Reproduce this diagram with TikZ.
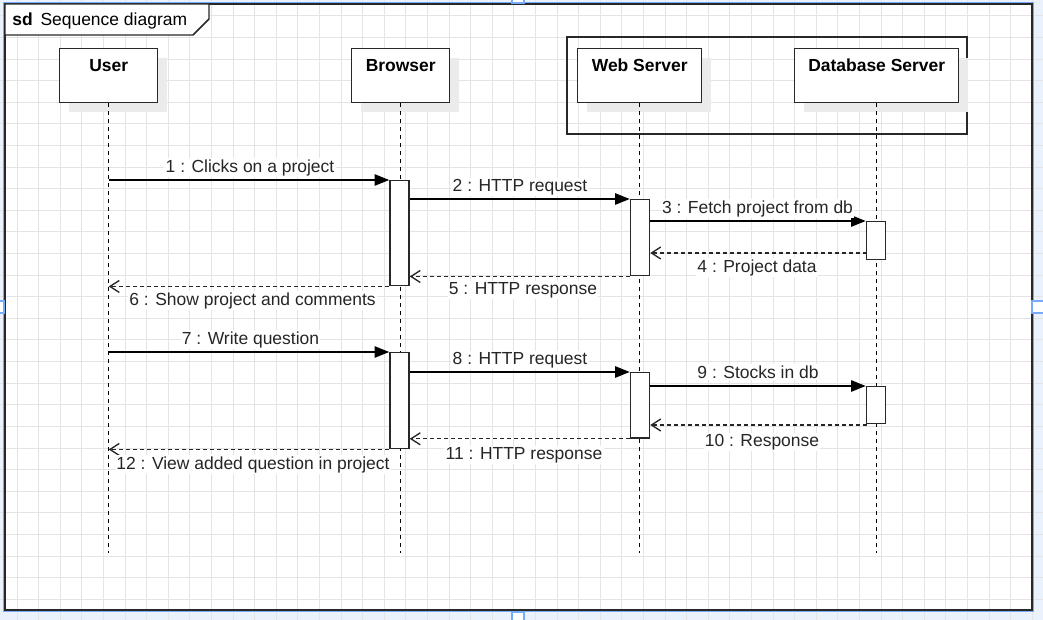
\documentclass[tikz,border=0pt]{standalone}
\usepackage{fontspec}
\setmainfont{Liberation Sans}
\usetikzlibrary{arrows.meta,shadows}

\definecolor{gridgray}{RGB}{228,228,228}
\definecolor{selblue}{RGB}{120,170,250}
\definecolor{seltint}{RGB}{234,242,254}
\definecolor{shadegray}{RGB}{235,235,235}
\definecolor{edgegray}{RGB}{40,40,40}

\tikzset{every picture/.style={line width=0.75pt}}
\tikzset{
  gridline/.style={draw=gridgray, line width=0.75pt},
  headbox/.style={draw=edgegray, line width=1.1pt, fill=white, anchor=north west,
    inner sep=0pt, text height=17.45pt, text depth=23.05pt, minimum width=#1,
    font=\fontsize{13.1pt}{15pt}\selectfont\bfseries,
    drop shadow={shadow xshift=6.75pt, shadow yshift=-6.75pt, fill=shadegray, opacity=1}},
  actbox/.style={draw=edgegray, line width=1.1pt, fill=white, anchor=north,
    inner sep=0pt, minimum width=14.25pt, minimum height=#1},
  lifeline/.style={draw=black, line width=0.9pt, dash pattern=on 3pt off 3pt},
  msg/.style={draw=black, line width=1.1pt, -{Triangle[length=11pt,width=8.5pt]}},
  ret/.style={draw=black!85, line width=1pt, dash pattern=on 3pt off 2.25pt,
    -{Straight Barb[length=7pt,width=9pt,line width=1pt]}},
  msgtext/.style={anchor=base, fill=white, inner xsep=1pt, inner ysep=1pt,
    text=black!85, font=\fontsize{13.1pt}{15pt}\selectfont},
  handle/.style={draw=selblue, line width=1.2pt, fill=white, minimum size=9pt, inner sep=0pt}
}

\begin{document}
\begin{tikzpicture}[x=0.75pt,y=0.75pt,yscale=-1,xscale=1]
\useasboundingbox (0,0) rectangle (1043,620);
\clip (0,0) rectangle (1043,620);

%background and selection tint
\fill[white] (0,0) rectangle (1043,620);
\fill[seltint] (1033,0) rectangle (1043,620);
\fill[seltint] (0,612) rectangle (1043,620);
\fill[seltint] (0,0) rectangle (1043,3);
\fill[seltint] (0,0) rectangle (4,620);

%grid
\foreach \gx in {-4.6,17,...,1050} \draw[gridline] (\gx,0) -- (\gx,620);
\foreach \gy in {-5.6,16,...,630} \draw[gridline] (0,\gy) -- (1043,\gy);

%selection outline and frame
\draw[selblue, line width=1pt] (3.2,2.4) rectangle (1033.2,611.6);
\draw[edgegray, line width=1.5pt] (5,4) rectangle (1031.5,610);
\node[handle] (htop) at (518,-3) {};
\node[handle] (hbot) at (518,618) {};
\node[handle] (hleft) at (-2,307) {};
\node[handle] (hright) at (1038,307) {};

%frame tab
\draw[edgegray, line width=1.1pt, fill=white] (5,4) -- (209,4) -- (209,19) -- (193,35) -- (5,35) -- cycle;
\node[anchor=base west, inner sep=0pt, font=\fontsize{13.1pt}{15pt}\selectfont\bfseries] (sdtag) at (12,25.3) {sd};
\node[anchor=base west, inner sep=0pt, font=\fontsize{13.1pt}{15pt}\selectfont] (sdtitle) at (40,25.3) {Sequence diagram};

%server group
\draw[edgegray, line width=1.1pt] (567,37) rectangle (967,134);

%lifeline heads
\node[headbox=73.5pt] (user) at (59,48) {User};
\node[headbox=73.5pt] (browser) at (351,48) {Browser};
\node[headbox=93pt] (web) at (577,48) {Web Server};
\node[headbox=123pt] (db) at (794,48) {Database Server};

%lifelines
\coordinate (lifeend) at (0,553);
\draw[lifeline] (user.south) -- (user.south |- lifeend);
\draw[lifeline] (browser.south) -- (browser.south |- lifeend);
\draw[lifeline] (web.south) -- (web.south |- lifeend);
\draw[lifeline] (db.south) -- (db.south |- lifeend);

%activations
\node[actbox=78.75pt] (bact1) at (399.5,180) {};
\node[actbox=57pt] (wact1) at (640,199) {};
\node[actbox=28.5pt] (dact1) at (876,221) {};
\node[actbox=72pt] (bact2) at (399.5,352) {};
\node[actbox=49pt] (wact2) at (640,372) {};
\node[actbox=27.75pt] (dact2) at (876,386) {};

%first exchange
\draw[msg] (user.south |- bact1.north) -- (bact1.north west);
\draw[msg] (bact1.east |- wact1.north) -- (wact1.north west);
\draw[msg] (wact1.east |- dact1.north) -- (dact1.north west);
\coordinate (ret4) at (866.5,253);
\draw[ret] (ret4) -- (ret4 -| wact1.east);
\draw[ret] (wact1.south west) -- (wact1.south west -| bact1.east);
\draw[ret] (bact1.south west) -- (bact1.south west -| user.south);

%second exchange
\draw[msg] (user.south |- bact2.north) -- (bact2.north west);
\draw[msg] (bact2.east |- wact2.north) -- (wact2.north west);
\draw[msg] (wact2.east |- dact2.north) -- (dact2.north west);
\coordinate (ret10) at (866.5,425);
\draw[ret] (ret10) -- (ret10 -| wact2.east);
\draw[ret] (wact2.south west) -- (wact2.south west -| bact2.east);
\draw[ret] (bact2.south west) -- (bact2.south west -| user.south);

%message labels
\node[msgtext] (m1) at (250,172.3) {1 : Clicks on a project};
\node[msgtext] (m2) at (520,191.3) {2 : HTTP request};
\node[msgtext] (m3) at (757.5,213.3) {3 : Fetch project from db};
\node[msgtext] (m4) at (757,272.3) {4 : Project data};
\node[msgtext] (m5) at (523,294.3) {5 : HTTP response};
\node[msgtext] (m6) at (252.5,305.3) {6 : Show project and comments};
\node[msgtext] (m7) at (250.5,344.3) {7 : Write question};
\node[msgtext] (m8) at (520,364.3) {8 : HTTP request};
\node[msgtext] (m9) at (758,378.3) {9 : Stocks in db};
\node[msgtext] (m10) at (762,446.3) {10 : Response};
\node[msgtext] (m11) at (524,459.3) {11 : HTTP response};
\node[msgtext] (m12) at (253,469) {12 : View added question in project};

\end{tikzpicture}
\end{document}
